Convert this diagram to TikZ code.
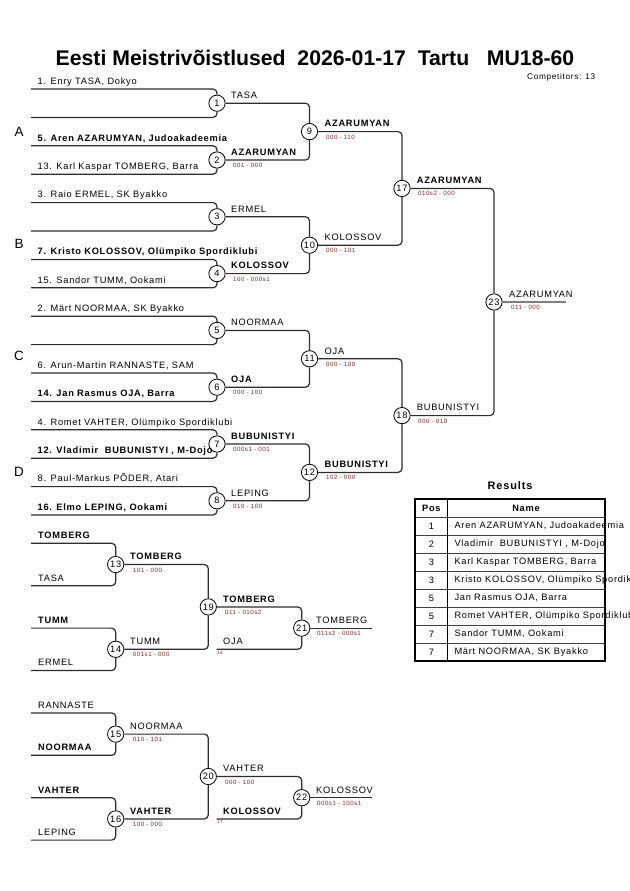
\documentclass[tikz,border=0pt]{standalone}
\usepackage{fontspec}
\setmainfont{Liberation Sans}
\newfontfamily\nf[LetterSpace=8]{Liberation Sans}
\usetikzlibrary{calc}
\definecolor{scorecol}{RGB}{128,40,40}
\definecolor{linecol}{RGB}{45,45,45}
\begin{document}
\begin{tikzpicture}[x=1bp,y=-1bp,
  ln/.style={draw=linecol,line width=1.2bp,rounded corners=4bp},
  circ/.style={circle,draw=black,fill=white,line width=0.8bp,minimum size=16.3bp,inner sep=0pt,font=\nf\fontsize{9.3}{9}\selectfont},
  nm/.style={anchor=base west,inner sep=0pt,font=\nf\fontsize{9.3}{11}\selectfont},
  nb/.style={anchor=base west,inner sep=0pt,font=\nf\fontsize{9.3}{11}\selectfont\bfseries},
  sc/.style={anchor=base west,inner sep=0pt,text=scorecol,font=\nf\fontsize{6.2}{7}\selectfont},
  tiny/.style={anchor=base west,inner sep=0pt,text=scorecol,font=\nf\fontsize{4.5}{5}\selectfont},
  grp/.style={inner sep=0pt,font=\fontsize{13.5}{15}\selectfont},
  tcell/.style={inner sep=0pt,font=\nf\fontsize{9.3}{11}\selectfont},
  ]
\fill[white] (0,0) rectangle (630,891);
\useasboundingbox (0,0) rectangle (630,891);
\clip (0,0) rectangle (630,891);

% title
\node[anchor=base,inner sep=0pt,font=\fontsize{21.3}{25}\selectfont\bfseries] (title) at (315,65) {Eesti Meistrivõistlused\ \ 2026-01-17\ \ Tartu\ \ \ MU18-60};
\node[anchor=base west,inner sep=0pt,font=\nf\fontsize{8.3}{10}\selectfont] (comp) at (527,79) {Competitors: 13};

% group letters
\node[grp] (gA) at (19,132) {A};
\node[grp] (gB) at (19,244) {B};
\node[grp] (gC) at (19,356) {C};
\node[grp] (gD) at (19,472) {D};

% entry coordinates main bracket
\foreach \i/\yy in {0/89,1/117.4,2/145.8,3/174.2,4/202.6,5/231,6/259.4,7/287.8,8/316.2,9/344.6,10/373,11/401.4,12/429.8,13/458.2,14/486.6,15/515}
  \coordinate (e\i) at (31,\yy);

% circles main bracket
\node[circ] (m1) at (217,103.2) {1};
\node[circ] (m2) at (217,160) {2};
\node[circ] (m3) at (217,216.8) {3};
\node[circ] (m4) at (217,273.6) {4};
\node[circ] (m5) at (217,330.4) {5};
\node[circ] (m6) at (217,387.2) {6};
\node[circ] (m7) at (217,444) {7};
\node[circ] (m8) at (217,500.8) {8};
\node[circ] (m9) at (309.5,131.6) {9};
\node[circ] (m10) at (309.5,245.2) {10};
\node[circ] (m11) at (309.5,358.8) {11};
\node[circ] (m12) at (309.5,472.4) {12};
\node[circ] (m17) at (402,188.4) {17};
\node[circ] (m18) at (402,415.6) {18};
\node[circ] (m23) at (494,302) {23};
\coordinate (f23) at (566,302);

% connectors main bracket
\foreach \a/\b/\m in {0/1/1,2/3/2,4/5/3,6/7/4,8/9/5,10/11/6,12/13/7,14/15/8}{
  \draw[ln] (e\a) -| (m\m.north);
  \draw[ln] (e\b) -| (m\m.south);
}
\foreach \a/\b/\m in {1/2/9,3/4/10,5/6/11,7/8/12,9/10/17,11/12/18,17/18/23}{
  \draw[ln] (m\a.east) -| (m\m.north);
  \draw[ln] (m\b.east) -| (m\m.south);
}
\draw[draw=black!50,line width=2bp] (m23.east) -- (f23);

% entry names
\node[nm] (t0) at (37.5,84.3) {1. Enry TASA, Dokyo};
\node[nb] (t2) at (37.5,141.1) {5. Aren AZARUMYAN, Judoakadeemia};
\node[nm] (t3) at (37.5,169.5) {13. Karl Kaspar TOMBERG, Barra};
\node[nm] (t4) at (37.5,197.9) {3. Raio ERMEL, SK Byakko};
\node[nb] (t6) at (37.5,254.7) {7. Kristo KOLOSSOV, Olümpiko Spordiklubi};
\node[nm] (t7) at (37.5,283.1) {15. Sandor TUMM, Ookami};
\node[nm] (t8) at (37.5,311.5) {2. Märt NOORMAA, SK Byakko};
\node[nm] (t10) at (37.5,368.3) {6. Arun-Martin RANNASTE, SAM};
\node[nb] (t11) at (37.5,396.7) {14. Jan Rasmus OJA, Barra};
\node[nm] (t12) at (37.5,425.1) {4. Romet VAHTER, Olümpiko Spordiklubi};
\node[nb] (t13) at (37.5,453.5) {12. Vladimir\ \ BUBUNISTYI , M-Dojo};
\node[nm] (t14) at (37.5,481.9) {8. Paul-Markus PÕDER, Atari};
\node[nb] (t15) at (37.5,510.3) {16. Elmo LEPING, Ookami};

% winner labels & scores
\node[nm] (w1) at ($(m1)+(14,-4.7)$) {TASA};
\node[nb] (w2) at ($(m2)+(14,-4.7)$) {AZARUMYAN};
\node[sc] (s2) at ($(m2)+(16,7.5)$) {001 - 000};
\node[nm] (w3) at ($(m3)+(14,-4.7)$) {ERMEL};
\node[nb] (w4) at ($(m4)+(14,-4.7)$) {KOLOSSOV};
\node[sc] (s4) at ($(m4)+(16,7.5)$) {100 - 000s1};
\node[nm] (w5) at ($(m5)+(14,-4.7)$) {NOORMAA};
\node[nb] (w6) at ($(m6)+(14,-4.7)$) {OJA};
\node[sc] (s6) at ($(m6)+(16,7.5)$) {000 - 100};
\node[nb] (w7) at ($(m7)+(14,-4.7)$) {BUBUNISTYI};
\node[sc] (s7) at ($(m7)+(16,7.5)$) {000s1 - 001};
\node[nm] (w8) at ($(m8)+(14,-4.7)$) {LEPING};
\node[sc] (s8) at ($(m8)+(16,7.5)$) {010 - 100};
\node[nb] (w9) at ($(m9)+(15,-4.7)$) {AZARUMYAN};
\node[sc] (s9) at ($(m9)+(16.5,7.5)$) {000 - 110};
\node[nm] (w10) at ($(m10)+(15,-4.7)$) {KOLOSSOV};
\node[sc] (s10) at ($(m10)+(16.5,7.5)$) {000 - 101};
\node[nm] (w11) at ($(m11)+(15,-4.7)$) {OJA};
\node[sc] (s11) at ($(m11)+(16.5,7.5)$) {000 - 100};
\node[nb] (w12) at ($(m12)+(15,-4.7)$) {BUBUNISTYI};
\node[sc] (s12) at ($(m12)+(16.5,7.5)$) {102 - 000};
\node[nb] (w17) at ($(m17)+(14.7,-4.7)$) {AZARUMYAN};
\node[sc] (s17) at ($(m17)+(16,7.5)$) {010s2 - 000};
\node[nm] (w18) at ($(m18)+(14.7,-4.7)$) {BUBUNISTYI};
\node[sc] (s18) at ($(m18)+(16,7.5)$) {000 - 010};
\node[nm] (w23) at ($(m23)+(15,-4.7)$) {AZARUMYAN};
\node[sc] (s23) at ($(m23)+(17,7.5)$) {011 - 000};

% repechage
\foreach \i/\yy in {0/543.3,1/585.7,2/628.1,3/670.5,4/712.9,5/755.3,6/797.7,7/840.1}
  \coordinate (r\i) at (31,\yy);
\node[circ] (m13) at (115.7,564.5) {13};
\node[circ] (m14) at (115.7,649.3) {14};
\node[circ] (m15) at (115.7,734.1) {15};
\node[circ] (m16) at (115.7,818.9) {16};
\node[circ] (m19) at (208.3,606.9) {19};
\node[circ] (m20) at (208.3,776.5) {20};
\node[circ] (m21) at (301.7,628.1) {21};
\node[circ] (m22) at (301.7,797.7) {22};
\coordinate (o18) at (216.7,649.3);
\coordinate (o17) at (216.7,818.9);
\coordinate (f21) at (371.7,628.1);
\coordinate (f22) at (371.7,797.7);

\foreach \a/\b/\m in {0/1/13,2/3/14,4/5/15,6/7/16}{
  \draw[ln] (r\a) -| (m\m.north);
  \draw[ln] (r\b) -| (m\m.south);
}
\foreach \a/\b/\m in {13/14/19,15/16/20}{
  \draw[ln] (m\a.east) -| (m\m.north);
  \draw[ln] (m\b.east) -| (m\m.south);
}
\draw[ln] (m19.east) -| (m21.north);
\draw[ln] (o18) -| (m21.south);
\draw[ln] (m20.east) -| (m22.north);
\draw[ln] (o17) -| (m22.south);
\draw[ln] (m21.east) -- (f21);
\draw[ln] (m22.east) -- (f22);

\node[nb] (q0) at (38,538.6) {TOMBERG};
\node[nm] (q1) at (38,581) {TASA};
\node[nb] (q2) at (38,623.4) {TUMM};
\node[nm] (q3) at (38,665.8) {ERMEL};
\node[nm] (q4) at (38,708.2) {RANNASTE};
\node[nb] (q5) at (38,750.6) {NOORMAA};
\node[nb] (q6) at (38,793) {VAHTER};
\node[nm] (q7) at (38,835.4) {LEPING};

\node[nb] (w13) at ($(m13)+(14.3,-4.7)$) {TOMBERG};
\node[sc] (s13) at ($(m13)+(17,7.5)$) {101 - 000};
\node[nm] (w14) at ($(m14)+(14.3,-4.7)$) {TUMM};
\node[sc] (s14) at ($(m14)+(17,7.5)$) {001s1 - 000};
\node[nm] (w15) at ($(m15)+(14.3,-4.7)$) {NOORMAA};
\node[sc] (s15) at ($(m15)+(17,7.5)$) {010 - 101};
\node[nb] (w16) at ($(m16)+(14.3,-4.7)$) {VAHTER};
\node[sc] (s16) at ($(m16)+(17,7.5)$) {100 - 000};
\node[nb] (w19) at ($(m19)+(14.7,-4.7)$) {TOMBERG};
\node[sc] (s19) at ($(m19)+(16.7,7.5)$) {011 - 010s2};
\node[nm] (i18) at ($(o18)+(6.3,-4.7)$) {OJA};
\node[tiny] (n18) at ($(o18)+(0.3,4.7)$) {18};
\node[nm] (w20) at ($(m20)+(14.7,-4.7)$) {VAHTER};
\node[sc] (s20) at ($(m20)+(16.7,7.5)$) {000 - 100};
\node[nb] (i17) at ($(o17)+(6.3,-4.7)$) {KOLOSSOV};
\node[tiny] (n17) at ($(o17)+(0.3,4.7)$) {17};
\node[nm] (w21) at ($(m21)+(14.3,-4.7)$) {TOMBERG};
\node[sc] (s21) at ($(m21)+(15.3,7.5)$) {011s2 - 000s1};
\node[nm] (w22) at ($(m22)+(14.3,-4.7)$) {KOLOSSOV};
\node[sc] (s22) at ($(m22)+(15.3,7.5)$) {000s1 - 100s1};

% results table
\node[inner sep=0pt,font=\nf\fontsize{11}{13}\selectfont\bfseries] (restitle) at (510,486) {Results};
\draw[line width=0.8bp,draw=black!75] \foreach \yy in {517,535,553,571,589,607,625,643} {(415,\yy) -- (605,\yy)};
\draw[line width=0.9bp] (447.7,499) -- (447.7,661);
\draw[line width=1.6bp] (415,499) rectangle (605,661);
\node[tcell,font=\nf\fontsize{9.3}{11}\selectfont\bfseries] (hpos) at (431.4,508) {Pos};
\node[tcell,font=\nf\fontsize{9.3}{11}\selectfont\bfseries] (hname) at (526,508) {Name};
\foreach \r/\p/\t in {1/1/{Aren AZARUMYAN, Judoakadeemia},2/2/{Vladimir\ \ BUBUNISTYI , M-Dojo},3/3/{Karl Kaspar TOMBERG, Barra},4/3/{Kristo KOLOSSOV, Olümpiko Spordiklubi},5/5/{Jan Rasmus OJA, Barra},6/5/{Romet VAHTER, Olümpiko Spordiklubi},7/7/{Sandor TUMM, Ookami},8/7/{Märt NOORMAA, SK Byakko}}{
  \node[tcell] (p\r) at (431.4,{508+18*\r}) {\p};
  \node[tcell,anchor=west] (nm\r) at (454.3,{508+18*\r}) {\t};
}
\end{tikzpicture}
\end{document}
